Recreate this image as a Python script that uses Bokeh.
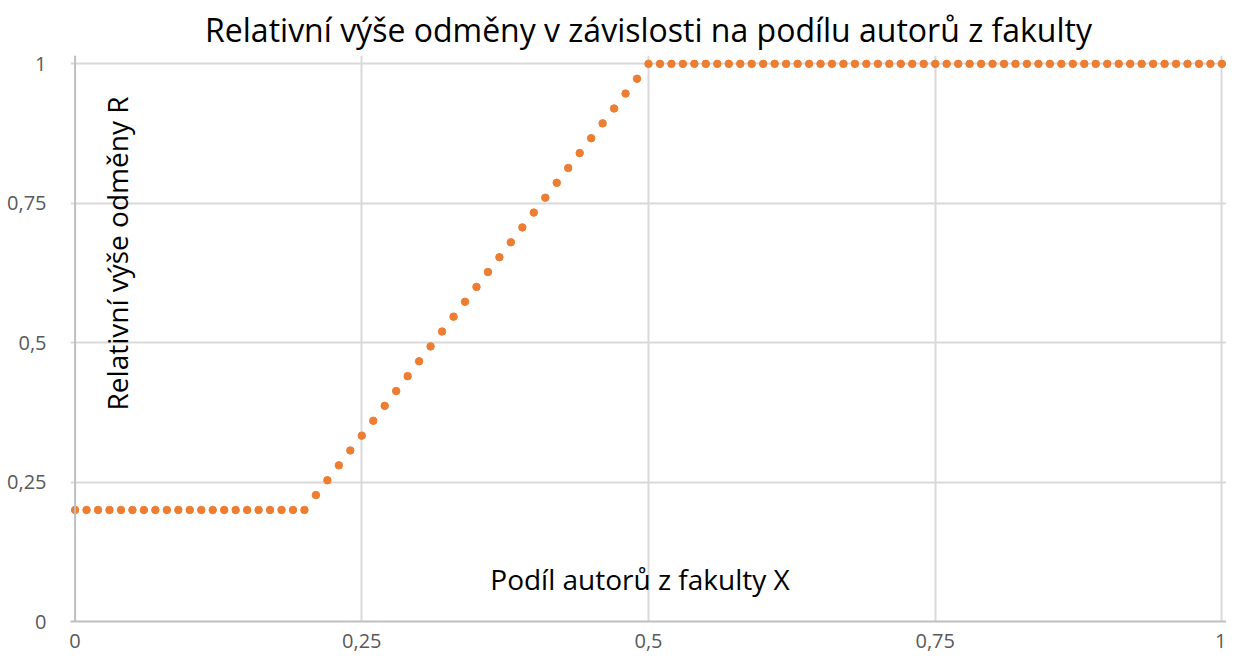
import math
from bokeh.plotting import figure
from bokeh.models import Range1d, FixedTicker, Label, Span
from bokeh.embed import file_html
from bokeh.resources import INLINE

title_text = "Relativní výše odměny v závislosti na podílu autorů z fakulty"
x_label = "Podíl autorů z fakulty X"
y_label = "Relativní výše odměny R"

tick_values = [0, 0.25, 0.5, 0.75, 1]
tick_labels = ["0", "0,25", "0,5", "0,75", "1"]

x_share = [
    0.00, 0.01, 0.02, 0.03, 0.04, 0.05, 0.06, 0.07, 0.08, 0.09,
    0.10, 0.11, 0.12, 0.13, 0.14, 0.15, 0.16, 0.17, 0.18, 0.19,
    0.20, 0.21, 0.22, 0.23, 0.24, 0.25, 0.26, 0.27, 0.28, 0.29,
    0.30, 0.31, 0.32, 0.33, 0.34, 0.35, 0.36, 0.37, 0.38, 0.39,
    0.40, 0.41, 0.42, 0.43, 0.44, 0.45, 0.46, 0.47, 0.48, 0.49,
    0.50, 0.51, 0.52, 0.53, 0.54, 0.55, 0.56, 0.57, 0.58, 0.59,
    0.60, 0.61, 0.62, 0.63, 0.64, 0.65, 0.66, 0.67, 0.68, 0.69,
    0.70, 0.71, 0.72, 0.73, 0.74, 0.75, 0.76, 0.77, 0.78, 0.79,
    0.80, 0.81, 0.82, 0.83, 0.84, 0.85, 0.86, 0.87, 0.88, 0.89,
    0.90, 0.91, 0.92, 0.93, 0.94, 0.95, 0.96, 0.97, 0.98, 0.99,
    1.00,
]
r_reward = [
    0.2, 0.2, 0.2, 0.2, 0.2, 0.2, 0.2, 0.2, 0.2, 0.2,
    0.2, 0.2, 0.2, 0.2, 0.2, 0.2, 0.2, 0.2, 0.2, 0.2,
    0.2, 0.2267, 0.2533, 0.28, 0.3067, 0.3333, 0.36, 0.3867, 0.4133, 0.44,
    0.4667, 0.4933, 0.52, 0.5467, 0.5733, 0.6, 0.6267, 0.6533, 0.68, 0.7067,
    0.7333, 0.76, 0.7867, 0.8133, 0.84, 0.8667, 0.8933, 0.92, 0.9467, 0.9733,
    1.0, 1.0, 1.0, 1.0, 1.0, 1.0, 1.0, 1.0, 1.0, 1.0,
    1.0, 1.0, 1.0, 1.0, 1.0, 1.0, 1.0, 1.0, 1.0, 1.0,
    1.0, 1.0, 1.0, 1.0, 1.0, 1.0, 1.0, 1.0, 1.0, 1.0,
    1.0, 1.0, 1.0, 1.0, 1.0, 1.0, 1.0, 1.0, 1.0, 1.0,
    1.0, 1.0, 1.0, 1.0, 1.0, 1.0, 1.0, 1.0, 1.0, 1.0,
    1.0,
]

FONT = "Open Sans"

p = figure(width=1226, height=656, output_backend="svg", toolbar_location=None,
           x_range=Range1d(-0.004, 1.004), y_range=Range1d(0, 1.015),
           min_border_left=70, min_border_right=0, min_border_top=54, min_border_bottom=35)

p.title.text = title_text
p.title.align = "center"
p.title.text_font = FONT
p.title.text_font_size = "32px"
p.title.text_font_style = "normal"
p.title.text_color = "#000000"
p.title.offset = 0
p.title.standoff = 10

p.outline_line_color = None
p.background_fill_color = "white"
p.border_fill_color = "white"

for ax in (p.xaxis[0], p.yaxis[0]):
    ax.ticker = FixedTicker(ticks=tick_values)
    ax.major_label_overrides = {v: l for v, l in zip(tick_values, tick_labels)}
    ax.major_tick_line_color = None
    ax.minor_tick_line_color = None
    ax.axis_line_color = "#bfbfbf"
    ax.axis_line_width = 2
    ax.major_label_text_font = FONT
    ax.major_label_text_font_size = "20px"
    ax.major_label_text_color = "#595959"

p.yaxis.axis_line_color = None
p.xaxis.major_label_standoff = 6
p.yaxis.major_label_standoff = 18

for g in (p.xgrid[0], p.ygrid[0]):
    g.ticker = FixedTicker(ticks=[0.25, 0.5, 0.75, 1])
    g.grid_line_color = "#d9d9d9"
    g.grid_line_width = 2

p.add_layout(Span(location=0, dimension="height", line_color="#bfbfbf", line_width=2))

p.scatter(x_share, r_reward, size=7.5, color="#ED7D31", line_color="#ED7D31")

p.add_layout(Label(x=0.4926, y=0.077, text=x_label, text_align="center",
                   text_baseline="middle", text_font=FONT, text_font_size="28px",
                   text_color="#000000"))
p.add_layout(Label(x=0.0366, y=0.66, text=y_label, angle=math.pi / 2,
                   text_align="center", text_baseline="middle", text_font=FONT,
                   text_font_size="28px", text_color="#000000"))

open("out.html", "w").write(file_html(p, INLINE))
